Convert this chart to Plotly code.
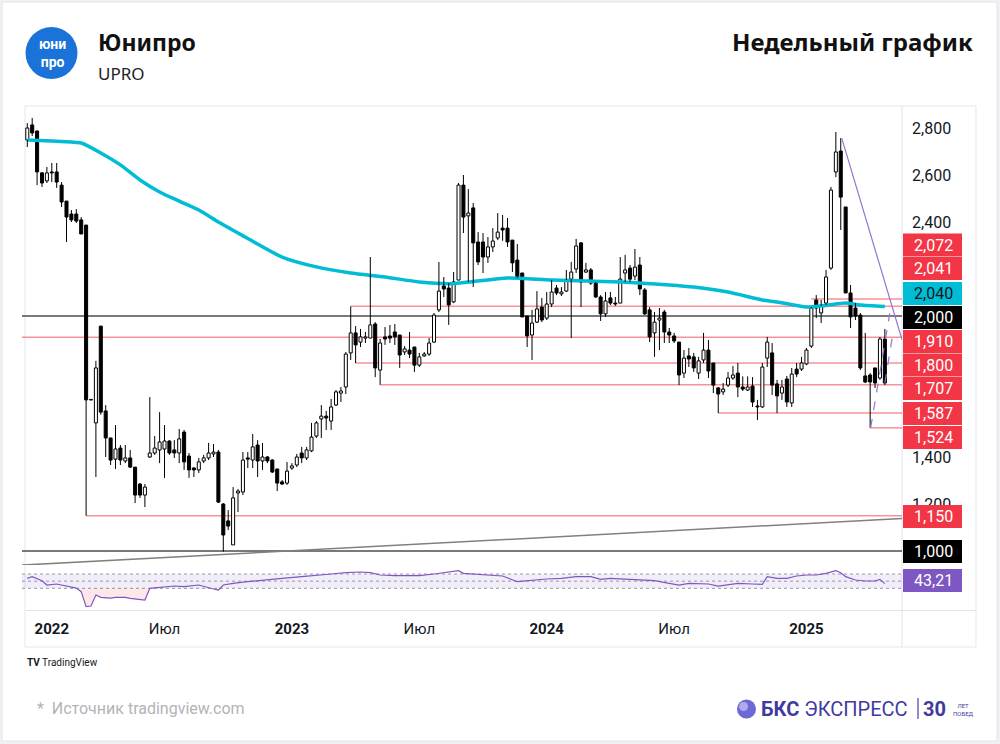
import plotly.graph_objects as go

W, H = 1000, 744
def px(x): return x / W
def py(y): return 1 - y / H

# ---------------- data (weekly bars) ----------------
opens = [2.749, 2.813, 2.787, 2.609, 2.575, 2.613, 2.613, 2.557, 2.489, 2.434,
         2.434, 2.409, 2.387, 1.643, 1.545, 1.957, 1.596, 1.481, 1.391, 1.438,
         1.383, 1.396, 1.357, 1.285, 1.238, 1.400, 1.417, 1.430, 1.434, 1.468,
         1.430, 1.417, 1.506, 1.404, 1.353, 1.345, 1.383, 1.396, 1.413, 1.421,
         1.200, 1.128, 1.026, 1.247, 1.251, 1.396, 1.387, 1.451, 1.383, 1.400,
         1.387, 1.349, 1.294, 1.289, 1.353, 1.366, 1.417, 1.396, 1.426, 1.489,
         1.562, 1.574, 1.553, 1.621, 1.672, 1.698, 1.843, 1.928, 1.889, 1.906,
         1.906, 1.966, 1.770, 1.911, 1.915, 1.932, 1.919, 1.847, 1.855, 1.868,
         1.791, 1.830, 1.838, 1.889, 2.026, 2.128, 2.119, 2.060, 2.153, 2.557,
         2.426, 2.460, 2.315, 2.315, 2.251, 2.294, 2.332, 2.374, 2.374, 2.323,
         2.238, 2.183, 2.000, 1.919, 1.974, 2.038, 1.991, 2.051, 2.119, 2.094,
         2.106, 2.157, 2.200, 2.311, 2.187, 2.196, 2.140, 2.081, 2.009, 2.077,
         2.055, 2.055, 2.183, 2.204, 2.170, 2.217, 2.111, 2.026, 1.928, 1.983,
         2.017, 1.932, 1.915, 1.889, 1.757, 1.830, 1.826, 1.757, 1.813, 1.855,
         1.800, 1.694, 1.677, 1.706, 1.736, 1.757, 1.698, 1.685, 1.702, 1.617,
         1.613, 1.821, 1.843, 1.711, 1.672, 1.732, 1.630, 1.774, 1.774, 1.796,
         1.872, 2.068, 2.013, 2.055, 2.204, 2.613, 2.702, 2.464, 2.098, 2.034,
         2.004, 1.745, 1.749, 1.779, 1.736, 1.902]
highs = [2.821, 2.843, 2.790, 2.613, 2.634, 2.651, 2.651, 2.570, 2.489, 2.451,
         2.455, 2.421, 2.387, 1.647, 1.809, 1.957, 1.621, 1.481, 1.536, 1.451,
         1.451, 1.430, 1.357, 1.289, 1.285, 1.655, 1.489, 1.591, 1.536, 1.472,
         1.472, 1.519, 1.515, 1.417, 1.357, 1.396, 1.409, 1.460, 1.455, 1.430,
         1.204, 1.174, 1.272, 1.264, 1.421, 1.421, 1.498, 1.472, 1.460, 1.404,
         1.391, 1.349, 1.302, 1.379, 1.374, 1.413, 1.443, 1.443, 1.545, 1.553,
         1.621, 1.596, 1.647, 1.685, 1.698, 1.847, 2.041, 1.957, 1.945, 1.932,
         2.251, 1.974, 1.902, 1.953, 1.962, 1.966, 1.919, 1.872, 1.932, 1.868,
         1.843, 1.847, 1.906, 2.013, 2.230, 2.166, 2.140, 2.187, 2.566, 2.600,
         2.540, 2.481, 2.357, 2.353, 2.336, 2.374, 2.438, 2.430, 2.417, 2.323,
         2.306, 2.183, 2.000, 2.026, 2.106, 2.077, 2.102, 2.153, 2.132, 2.123,
         2.196, 2.230, 2.328, 2.315, 2.226, 2.204, 2.145, 2.089, 2.102, 2.102,
         2.081, 2.251, 2.260, 2.217, 2.285, 2.251, 2.119, 2.038, 2.017, 2.034,
         2.026, 1.949, 1.928, 1.889, 1.855, 1.864, 1.843, 1.826, 1.928, 1.898,
         1.800, 1.698, 1.715, 1.762, 1.787, 1.800, 1.743, 1.743, 1.740, 1.643,
         1.800, 1.911, 1.885, 1.728, 1.728, 1.745, 1.779, 1.800, 1.826, 1.864,
         2.038, 2.089, 2.068, 2.196, 2.549, 2.783, 2.757, 2.464, 2.132, 2.055,
         2.013, 1.928, 1.757, 1.779, 1.911, 1.945]
lows = [2.719, 2.766, 2.557, 2.549, 2.566, 2.570, 2.545, 2.464, 2.315, 2.400,
        2.396, 2.349, 1.150, 1.640, 1.315, 1.580, 1.400, 1.366, 1.349, 1.366,
        1.374, 1.353, 1.204, 1.226, 1.187, 1.396, 1.409, 1.374, 1.311, 1.409,
        1.396, 1.374, 1.345, 1.311, 1.315, 1.332, 1.374, 1.387, 1.400, 1.204,
        0.997, 1.089, 1.026, 1.166, 1.238, 1.353, 1.353, 1.315, 1.345, 1.374,
        1.332, 1.255, 1.281, 1.281, 1.345, 1.357, 1.374, 1.387, 1.421, 1.481,
        1.481, 1.515, 1.515, 1.617, 1.634, 1.668, 1.813, 1.800, 1.868, 1.885,
        1.906, 1.740, 1.707, 1.877, 1.885, 1.877, 1.779, 1.834, 1.821, 1.762,
        1.783, 1.826, 1.830, 1.885, 2.017, 2.081, 1.962, 2.055, 2.153, 2.353,
        2.145, 2.123, 2.217, 2.183, 2.226, 2.272, 2.323, 2.320, 2.294, 2.187,
        2.162, 1.996, 1.868, 1.813, 1.970, 1.974, 1.983, 2.038, 2.089, 2.085,
        2.102, 1.906, 2.183, 2.038, 2.183, 2.132, 2.077, 1.979, 1.996, 2.047,
        2.043, 2.055, 2.145, 2.145, 2.153, 2.089, 2.004, 1.889, 1.826, 1.855,
        1.885, 1.885, 1.885, 1.706, 1.736, 1.783, 1.762, 1.732, 1.800, 1.736,
        1.672, 1.587, 1.664, 1.698, 1.728, 1.655, 1.681, 1.681, 1.613, 1.557,
        1.609, 1.783, 1.664, 1.587, 1.643, 1.613, 1.613, 1.740, 1.766, 1.791,
        1.864, 1.991, 1.970, 2.047, 2.196, 2.591, 2.366, 2.098, 1.949, 1.983,
        1.770, 1.715, 1.524, 1.694, 1.728, 1.706]
closes = [2.800, 2.779, 2.613, 2.566, 2.609, 2.609, 2.570, 2.485, 2.421, 2.409,
          2.404, 2.349, 1.643, 1.645, 1.779, 1.591, 1.481, 1.387, 1.434, 1.387,
          1.396, 1.357, 1.238, 1.238, 1.272, 1.417, 1.438, 1.464, 1.468, 1.417,
          1.417, 1.477, 1.379, 1.345, 1.345, 1.379, 1.396, 1.417, 1.421, 1.208,
          1.068, 1.106, 1.226, 1.255, 1.387, 1.391, 1.443, 1.383, 1.400, 1.383,
          1.336, 1.289, 1.285, 1.340, 1.362, 1.400, 1.396, 1.430, 1.485, 1.545,
          1.574, 1.566, 1.613, 1.677, 1.681, 1.838, 1.928, 1.877, 1.911, 1.911,
          1.962, 1.779, 1.885, 1.902, 1.906, 1.911, 1.834, 1.860, 1.838, 1.791,
          1.826, 1.838, 1.885, 2.004, 2.106, 2.115, 2.047, 2.145, 2.557, 2.421,
          2.438, 2.311, 2.230, 2.251, 2.294, 2.319, 2.357, 2.366, 2.315, 2.226,
          2.166, 1.996, 1.915, 1.970, 2.030, 1.983, 2.051, 2.102, 2.098, 2.102,
          2.153, 2.187, 2.298, 2.145, 2.196, 2.140, 2.081, 2.009, 2.064, 2.055,
          2.051, 2.157, 2.196, 2.157, 2.208, 2.115, 2.009, 1.911, 1.974, 1.991,
          1.932, 1.919, 1.894, 1.749, 1.821, 1.817, 1.779, 1.809, 1.855, 1.766,
          1.706, 1.668, 1.689, 1.736, 1.749, 1.698, 1.689, 1.698, 1.634, 1.613,
          1.783, 1.889, 1.706, 1.660, 1.698, 1.634, 1.753, 1.753, 1.800, 1.855,
          2.034, 2.034, 2.043, 2.166, 2.536, 2.698, 2.506, 2.098, 1.996, 2.000,
          1.779, 1.719, 1.719, 1.715, 1.902, 1.715]

# moving average read at selected bars
ma_bar = [0, 5, 9, 11, 15, 19, 23, 27, 31, 35, 39, 43, 45, 52, 59, 66, 73, 80,
          87, 98, 107, 121, 131, 136, 143, 150, 153, 159, 163, 167, 170, 175]
ma_val = [2.749, 2.745, 2.740, 2.736, 2.694, 2.643, 2.579, 2.528, 2.489, 2.451,
          2.400, 2.353, 2.330, 2.251, 2.209, 2.183, 2.166, 2.145, 2.138, 2.162,
          2.153, 2.145, 2.132, 2.123, 2.102, 2.068, 2.060, 2.038, 2.045, 2.055,
          2.047, 2.040]

# oscillator read at selected bars
osc_bar = [0, 1, 3, 4, 6, 8, 10, 11, 12, 13, 14, 15, 17, 18, 20, 21, 23, 24, 25,
           27, 30, 32, 35, 38, 39, 40, 42, 45, 48, 52, 56, 59, 62, 65, 68, 70,
           72, 75, 78, 80, 83, 85, 88, 89, 91, 94, 97, 100, 103, 106, 109, 112,
           115, 117, 119, 122, 125, 128, 131, 133, 135, 137, 139, 141, 143, 145,
           148, 150, 151, 153, 155, 157, 159, 161, 163, 165, 166, 167, 169, 171,
           173, 174, 175]
osc_val = [57.9, 62.5, 51.3, 39.2, 42.0, 36.4, 30.5, 20.6, -21.4, -19.5, 11.3,
           4.7, 2.7, 4.7, 4.7, 1.9, -0.9, -2.7, 30.0, 32.7, 36.4, 34.6, 39.2,
           28.0, 25.2, 39.2, 43.9, 48.5, 53.2, 57.9, 62.5, 67.2, 70.0, 73.7,
           75.6, 73.7, 67.2, 65.3, 64.4, 65.3, 70.0, 73.7, 79.3, 71.9, 70.0,
           67.2, 64.4, 48.5, 53.2, 56.0, 57.9, 62.5, 62.5, 55.1, 57.9, 55.1,
           53.2, 51.3, 43.9, 39.2, 43.9, 42.0, 42.0, 36.4, 39.2, 43.9, 42.0,
           41.1, 62.5, 57.9, 57.9, 64.4, 67.2, 67.2, 71.9, 79.3, 73.7, 62.5,
           53.2, 50.4, 50.4, 55.1, 43.2]

# horizontal levels
red_levels = [2.072, 2.041, 1.910, 1.800, 1.707, 1.587, 1.524, 1.150]
red_level_start = [160, 66, -1.08, 67, 72, 141, 172, 12]
grey_levels = [2.000, 1.000]

# axis labels
x_tick_bar = [5, 28, 54, 80, 106, 132, 159]
x_tick_text = ["<b>2022</b>", "Июл", "<b>2023</b>", "Июл", "<b>2024</b>", "Июл", "<b>2025</b>"]
y_tick_val = [1.2, 1.4, 2.4, 2.6, 2.8]
y_tick_text = ["1,200", "1,400", "2,400", "2,600", "2,800"]

# right-hand value tags: text, centre y (px), fill, font colour
tags = [("2,072", 245, "#f23645", "white"), ("2,041", 268.5, "#f23645", "white"),
        ("2,040", 293.5, "#00bcd4", "#131722"), ("2,000", 317.5, "#000000", "white"),
        ("1,910", 341.5, "#f23645", "white"), ("1,800", 365, "#f23645", "white"),
        ("1,707", 388.5, "#f23645", "white"), ("1,587", 413.5, "#f23645", "white"),
        ("1,524", 437.5, "#f23645", "white"), ("1,150", 516.5, "#f23645", "white"),
        ("1,000", 551.5, "#000000", "white"), ("43,21", 580.5, "#7e57c2", "white")]

# ---------------- layout constants ----------------
X0, X1 = -1.08, 178.5
PR = [0.9404, 2.8894]
OR = [-30.7, 95.2]

n = len(opens)
bars = list(range(n))

fig = go.Figure()

# moving average
fig.add_trace(go.Scatter(x=ma_bar, y=ma_val, mode="lines",
                         line=dict(color="#00bcd4", width=3.5, shape="spline", smoothing=0.6),
                         hoverinfo="skip", showlegend=False))

# wicks
wx, wy = [], []
for i in bars:
    top = max(opens[i], closes[i]); bot = min(opens[i], closes[i])
    wx += [i, i, None, i, i, None]
    wy += [highs[i], top, None, bot, lows[i], None]
fig.add_trace(go.Scatter(x=wx, y=wy, mode="lines", line=dict(color="#000000", width=1),
                         hoverinfo="skip", showlegend=False))

# bodies
inc = [i for i in bars if closes[i] >= opens[i]]
dec = [i for i in bars if closes[i] < opens[i]]
for sel, col in ((inc, "#ffffff"), (dec, "#000000")):
    fig.add_trace(go.Bar(x=sel, y=[abs(closes[i] - opens[i]) for i in sel],
                         base=[min(opens[i], closes[i]) for i in sel], width=0.62,
                         marker=dict(color=col, line=dict(color="#000000", width=1)),
                         hoverinfo="skip", showlegend=False))

# oscillator pane
fig.add_trace(go.Scatter(x=[X0, X1], y=[30, 30], mode="lines", line=dict(width=0),
                         xaxis="x2", yaxis="y2", hoverinfo="skip", showlegend=False))
fig.add_trace(go.Scatter(x=osc_bar, y=[min(v, 30) for v in osc_val], mode="lines",
                         line=dict(width=0), fill="tonexty", fillcolor="rgba(242,54,69,0.12)",
                         xaxis="x2", yaxis="y2", hoverinfo="skip", showlegend=False))
fig.add_trace(go.Scatter(x=osc_bar, y=osc_val, mode="lines",
                         line=dict(color="#7e57c2", width=1.2),
                         xaxis="x2", yaxis="y2", hoverinfo="skip", showlegend=False))

shapes = []
# page card
shapes.append(dict(type="rect", xref="paper", yref="paper", x0=px(2), x1=px(997), y0=py(741), y1=py(2),
                   fillcolor="white", line=dict(color="#e4e4e8", width=1), layer="below"))
# chart frame
shapes.append(dict(type="rect", xref="paper", yref="paper", x0=px(25), x1=px(976), y0=py(647), y1=py(106),
                   fillcolor="rgba(0,0,0,0)", line=dict(color="#e6e7ec", width=1), layer="below"))
shapes.append(dict(type="line", xref="paper", yref="paper", x0=px(902), x1=px(902), y0=py(647), y1=py(106),
                   line=dict(color="#e0e3eb", width=1), layer="below"))
shapes.append(dict(type="line", xref="paper", yref="paper", x0=px(25), x1=px(976), y0=py(610.5), y1=py(610.5),
                   line=dict(color="#e0e3eb", width=1), layer="below"))
# oscillator band
shapes.append(dict(type="rect", xref="x2", yref="y2", x0=X0, x1=X1, y0=30, y1=70,
                   fillcolor="rgba(126,87,194,0.10)", line=dict(width=0), layer="below"))
for lv in (70, 50, 30):
    shapes.append(dict(type="line", xref="x2", yref="y2", x0=X0, x1=X1, y0=lv, y1=lv,
                       line=dict(color="#9598a1", width=1, dash="dot"), layer="below"))
# levels
for lv in grey_levels:
    shapes.append(dict(type="line", xref="x", yref="y", x0=X0, x1=X1, y0=lv, y1=lv,
                       line=dict(color="#4d4d4d", width=1.5), layer="below"))
for lv, s in zip(red_levels, red_level_start):
    shapes.append(dict(type="line", xref="x", yref="y", x0=s, x1=X1, y0=lv, y1=lv,
                       line=dict(color="rgba(242,54,69,0.55)", width=1.5), layer="below"))
# trend lines
shapes.append(dict(type="line", xref="x", yref="y", x0=X0, x1=X1, y0=0.940, y1=1.138,
                   line=dict(color="#808080", width=1.5), layer="below"))
shapes.append(dict(type="line", xref="x", yref="y", x0=166.2, x1=X1, y0=2.757, y1=1.900,
                   line=dict(color="#9575cd", width=1.2)))
shapes.append(dict(type="line", xref="x", yref="y", x0=172.1, x1=176.0, y0=1.524, y1=2.011,
                   line=dict(color="#9575cd", width=1.2, dash="dash")))
shapes.append(dict(type="line", xref="x", yref="y", x0=175.0, x1=176.6, y0=1.715, y1=1.920,
                   line=dict(color="#9575cd", width=1.2, dash="dash")))
# value tags
for txt, yc, fill, fc in tags:
    shapes.append(dict(type="rect", xref="paper", yref="paper", x0=px(903), x1=px(962),
                       y0=py(yc + 11.5), y1=py(yc - 11.5), fillcolor=fill, line=dict(width=0), layer="above"))
# logo circle
shapes.append(dict(type="circle", xref="paper", yref="paper", x0=px(25.5), x1=px(77.5), y0=py(79), y1=py(27),
                   fillcolor="#1a73d9", line=dict(width=0)))
# BKS mark
shapes.append(dict(type="circle", xref="paper", yref="paper", x0=px(737), x1=px(756), y0=py(718.5), y1=py(699.5),
                   fillcolor="#6d68d8", line=dict(width=0)))
shapes.append(dict(type="circle", xref="paper", yref="paper", x0=px(739), x1=px(748), y0=py(711), y1=py(702),
                   fillcolor="rgba(255,255,255,0.45)", line=dict(width=0)))
shapes.append(dict(type="line", xref="paper", yref="paper", x0=px(918), x1=px(918), y0=py(719), y1=py(698),
                   line=dict(color="#4a3fa8", width=1.2)))

ann = []
for txt, yc, fill, fc in tags:
    ann.append(dict(text=txt, x=px(933), y=py(yc), xref="paper", yref="paper", showarrow=False,
                    xanchor="center", yanchor="middle", font=dict(family="Roboto", size=16, color=fc)))
ann += [
    dict(text="<b>юни<br>про</b>", x=px(52), y=py(53.5), xref="paper", yref="paper", showarrow=False,
         xanchor="center", yanchor="middle", align="center",
         font=dict(family="Roboto", size=14, color="white")),
    dict(text="<b>Юнипро</b>", x=px(96), y=py(42), xref="paper", yref="paper", showarrow=False,
         xanchor="left", yanchor="middle", font=dict(family="Noto Sans", size=23, color="#111111")),
    dict(text="UPRO", x=px(96), y=py(73), xref="paper", yref="paper", showarrow=False,
         xanchor="left", yanchor="middle", font=dict(family="Noto Sans", size=17, color="#222222")),
    dict(text="<b>Недельный график</b>", x=px(975), y=py(42), xref="paper", yref="paper", showarrow=False,
         xanchor="right", yanchor="middle", font=dict(family="Noto Sans", size=24, color="#111111")),
    dict(text="<b>TV</b> TradingView", x=px(25), y=py(662), xref="paper", yref="paper", showarrow=False,
         xanchor="left", yanchor="middle", font=dict(family="Roboto", size=10, color="#131722")),
    dict(text="*  Источник tradingview.com", x=px(35), y=py(708), xref="paper", yref="paper", showarrow=False,
         xanchor="left", yanchor="middle", font=dict(family="Roboto", size=16, color="#b3b3b8")),
    dict(text="<b>БКС</b> ЭКСПРЕСС", x=px(759), y=py(709), xref="paper", yref="paper", showarrow=False,
         xanchor="left", yanchor="middle", font=dict(family="Roboto", size=20, color="#3f3aa0")),
    dict(text="<b>30</b>", x=px(921), y=py(709), xref="paper", yref="paper", showarrow=False,
         xanchor="left", yanchor="middle", font=dict(family="Roboto", size=20, color="#3f3aa0")),
    dict(text="ЛЕТ<br>ПОБЕД", x=px(951), y=py(709), xref="paper", yref="paper", showarrow=False,
         xanchor="left", yanchor="middle", font=dict(family="Roboto", size=6, color="#3f3aa0")),
]

fig.update_layout(
    width=W, height=H, margin=dict(l=0, r=0, t=0, b=0),
    paper_bgcolor="#f1f1f3", plot_bgcolor="rgba(0,0,0,0)",
    separators=", ", barmode="overlay", showlegend=False,
    shapes=shapes, annotations=ann,
    xaxis=dict(domain=[px(22), px(902)], range=[X0, X1], anchor="y", visible=False, fixedrange=True),
    yaxis=dict(domain=[py(565), py(107)], range=PR, anchor="x", side="right",
               tickmode="array", tickvals=y_tick_val, ticktext=y_tick_text,
               showgrid=False, zeroline=False, showline=False, ticks="",
               ticklabelstandoff=9, tickfont=dict(family="Roboto", size=16, color="#131722")),
    xaxis2=dict(domain=[px(22), px(902)], range=[X0, X1], anchor="y2",
                tickmode="array", tickvals=x_tick_bar, ticktext=x_tick_text,
                showgrid=False, zeroline=False, showline=False, ticks="",
                ticklabelstandoff=8, tickfont=dict(family="Roboto", size=15, color="#131722")),
    yaxis2=dict(domain=[py(610), py(565)], range=OR, anchor="x2", visible=False),
)

fig.write_html("out.html")
